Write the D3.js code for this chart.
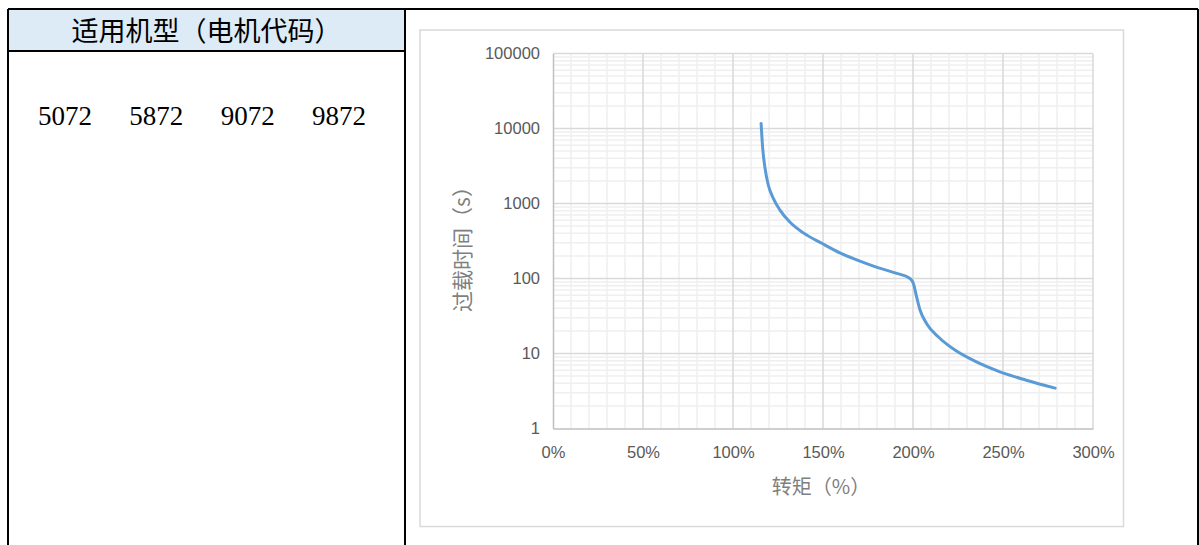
<!DOCTYPE html>
<html>
<head>
<meta charset="utf-8">
<script src="https://cdn.jsdelivr.net/npm/d3@7"></script>
<style>
  body { margin: 0; background: #fff; }
  svg { display: block; }
</style>
</head>
<body>
<div class="canvas"></div>
<script>
// Table content
const headerText = '适用机型（电机代码）';
const motorCodes = ['5072', '5872', '9072', '9872'];

// Chart data: torque (%) vs overload time (s)
const torque = [115.6, 116.5, 117.8, 119.6, 122.4, 126.1, 131.7, 139.1, 149.3, 160, 168.7, 180, 190, 198.3, 200.2, 202, 203.9, 207.6, 214, 223.3, 234.4, 248.3, 263, 279];
const overloadTime = [11700, 5450, 2950, 1765, 1170, 817, 562, 406, 295, 216, 177, 141, 119, 100, 86, 57, 38, 25, 16.7, 11.1, 7.9, 5.7, 4.4, 3.45];
const xTicks = [0, 50, 100, 150, 200, 250, 300];
const yTicks = [1, 10, 100, 1000, 10000, 100000];
const xTitle = '转矩（%）';
const yTitle = '过载时间（s）';

const W = 1199, H = 545;
const svg = d3.select('.canvas').append('svg')
  .attr('width', W)
  .attr('height', H);

// ---- table ----
const tbl = { left: 8, top: 9, right: 1198, divider: 405, headBottom: 51 };

svg.append('rect')
  .attr('x', tbl.left).attr('y', tbl.top)
  .attr('width', tbl.divider - tbl.left).attr('height', tbl.headBottom - tbl.top)
  .attr('fill', '#ddebf7');

const lines = [
  [tbl.left, tbl.top, tbl.right, tbl.top],
  [tbl.left, tbl.top, tbl.left, H + 2],
  [tbl.divider, tbl.top, tbl.divider, H + 2],
  [tbl.right, tbl.top, tbl.right, H + 2],
  [tbl.left, tbl.headBottom, tbl.divider, tbl.headBottom]
];
svg.append('g').selectAll('line')
  .data(lines)
  .enter().append('line')
    .attr('x1', d => d[0]).attr('y1', d => d[1])
    .attr('x2', d => d[2]).attr('y2', d => d[3])
    .attr('stroke', '#000')
    .attr('stroke-width', 2);

svg.append('text')
  .attr('x', (tbl.left + tbl.divider) / 2)
  .attr('y', 41)
  .attr('text-anchor', 'middle')
  .attr('font-family', '"Noto Sans CJK SC", sans-serif')
  .attr('font-size', 27)
  .attr('fill', '#000')
  .text(headerText);

const codeX = d3.scalePoint().domain(motorCodes).range([38, 312]);
svg.append('g').selectAll('text')
  .data(motorCodes)
  .enter().append('text')
    .attr('x', d => codeX(d))
    .attr('y', 125)
    .attr('font-family', '"Liberation Serif", "Times New Roman", serif')
    .attr('font-size', 27)
    .attr('fill', '#000')
    .text(d => d);

// ---- chart ----
svg.append('rect')
  .attr('x', 420).attr('y', 30)
  .attr('width', 1123.5 - 420).attr('height', 526.5 - 30)
  .attr('fill', '#fff')
  .attr('stroke', '#d9d9d9')
  .attr('stroke-width', 1.5);

const plot = { left: 553, right: 1093, top: 53.5, bottom: 428.5 };

const x = d3.scaleLinear().domain([0, 300]).range([plot.left, plot.right]);
const y = d3.scaleLog().domain([1, 100000]).range([plot.bottom, plot.top]);

const grid = svg.append('g');

// minor verticals every 10%
const xMinor = d3.range(0, 301, 10).filter(v => v % 50 !== 0);
grid.selectAll('line.xminor')
  .data(xMinor)
  .enter().append('line')
    .attr('class', 'xminor')
    .attr('x1', d => x(d)).attr('x2', d => x(d))
    .attr('y1', plot.top).attr('y2', plot.bottom)
    .attr('stroke', '#efefef').attr('stroke-width', 1.5);

// minor horizontals (log 2..9)
const yMinor = [];
yTicks.slice(0, -1).forEach(b => { for (let k = 2; k <= 9; k++) yMinor.push(b * k); });
grid.selectAll('line.yminor')
  .data(yMinor)
  .enter().append('line')
    .attr('class', 'yminor')
    .attr('x1', plot.left).attr('x2', plot.right)
    .attr('y1', d => y(d)).attr('y2', d => y(d))
    .attr('stroke', '#efefef').attr('stroke-width', 1.5);

// major gridlines
grid.selectAll('line.xmajor')
  .data(xTicks.slice(1))
  .enter().append('line')
    .attr('class', 'xmajor')
    .attr('x1', d => x(d)).attr('x2', d => x(d))
    .attr('y1', plot.top).attr('y2', plot.bottom)
    .attr('stroke', '#d9d9d9').attr('stroke-width', 1.5);

grid.selectAll('line.ymajor')
  .data(yTicks.slice(1))
  .enter().append('line')
    .attr('class', 'ymajor')
    .attr('x1', plot.left).attr('x2', plot.right)
    .attr('y1', d => y(d)).attr('y2', d => y(d))
    .attr('stroke', '#d9d9d9').attr('stroke-width', 1.5);

// axes
const xAxis = svg.append('g')
  .attr('transform', `translate(0, ${plot.bottom})`)
  .call(d3.axisBottom(x).tickValues(xTicks).tickSize(0).tickPadding(18).tickFormat(d => d + '%'));
const yAxis = svg.append('g')
  .attr('transform', `translate(${plot.left}, 0)`)
  .call(d3.axisLeft(y).tickValues(yTicks).tickSize(0).tickPadding(13).tickFormat(d3.format('d')));

[xAxis, yAxis].forEach(a => {
  a.select('.domain').attr('stroke', '#bfbfbf').attr('stroke-width', 1.5);
  a.selectAll('text')
    .attr('font-family', '"Liberation Sans", Arial, sans-serif')
    .attr('font-size', 16.5)
    .attr('fill', '#595959');
});

svg.append('text')
  .attr('x', (plot.left + plot.right) / 2 - 2)
  .attr('y', 494)
  .attr('text-anchor', 'middle')
  .attr('font-family', '"Noto Sans CJK SC", sans-serif')
  .attr('font-size', 20)
  .attr('fill', '#7f7f7f')
  .text(xTitle);

svg.append('text')
  .attr('transform', `translate(470, 244) rotate(-90)`)
  .attr('text-anchor', 'middle')
  .attr('font-family', '"Noto Sans CJK SC", sans-serif')
  .attr('font-size', 21)
  .attr('fill', '#7f7f7f')
  .text(yTitle);

// curve
const pts = torque.map((t, i) => [t, overloadTime[i]]);
const line = d3.line()
  .x(d => x(d[0]))
  .y(d => y(d[1]))
  .curve(d3.curveMonotoneX);

svg.append('path')
  .datum(pts)
  .attr('d', line)
  .attr('fill', 'none')
  .attr('stroke', '#5b9bd5')
  .attr('stroke-width', 3)
  .attr('stroke-linecap', 'round');
</script>
</body>
</html>
